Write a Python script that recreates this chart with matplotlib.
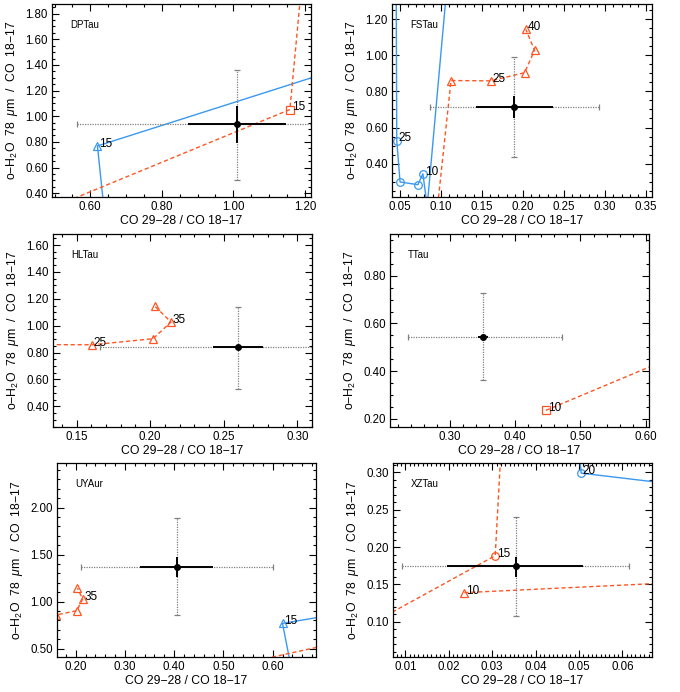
import matplotlib
matplotlib.use("Agg")
import matplotlib.pyplot as plt
from matplotlib.ticker import MultipleLocator, AutoMinorLocator, FormatStrFormatter

plt.rcParams['font.family'] = ['Liberation Sans', 'DejaVu Sans']
plt.rcParams['mathtext.fontset'] = 'custom'
plt.rcParams['mathtext.rm'] = 'Liberation Sans'
plt.rcParams['mathtext.it'] = 'Liberation Sans:italic'

BLUE = '#3a98f0'
ORANGE = '#ff5522'

# --- model tracks (same in every panel), labelled by model value ---
# blue solid, circles
CIRC_B_VAL = [30, 25, 20, 15, 10, 5, 2]
CIRC_B_X = [0.0455, 0.0465, 0.0505, 0.0722, 0.0783, 0.0835, 0.1100]
CIRC_B_Y = [1.750, 0.528, 0.299, 0.284, 0.344, 0.165, 1.506]
# blue solid, triangles
TRI_B_VAL = [10, 15, 20]
TRI_B_X = [0.645, 0.620, 1.500]
TRI_B_Y = [0.100, 0.768, 1.550]
# orange dashed, circles
CIRC_O_VAL = [10, 15, 20, 25]
CIRC_O_X = [0.000, 0.0307, 0.0440, 0.0500]
CIRC_O_Y = [0.0905, 0.1885, 1.600, 2.500]
# orange dashed, triangles
TRI_O_VAL = [10, 15, 20, 25, 30, 35, 40]
TRI_O_X = [0.0236, 0.0960, 0.1125, 0.1606, 0.2019, 0.2142, 0.2034]
TRI_O_Y = [0.139, 0.159, 0.860, 0.858, 0.903, 1.027, 1.143]
# orange dashed, squares
SQ_O_VAL = [10, 15, 20]
SQ_O_X = [0.447, 1.158, 1.210]
SQ_O_Y = [0.235, 1.052, 2.600]

# --- observed ratios per star ---
STARS = ['DPTau', 'FSTau', 'HLTau', 'TTau', 'UYAur', 'XZTau']
OBS_X = [1.010, 0.189, 0.260, 0.351, 0.405, 0.0354]
OBS_Y = [0.940, 0.713, 0.840, 0.543, 1.372, 0.1742]
# black (small) error ranges
BLK_X_LO = [0.873, 0.143, 0.2425, 0.343, 0.330, 0.0197]
BLK_X_HI = [1.146, 0.236, 0.2770, 0.358, 0.479, 0.0510]
BLK_Y_LO = [0.792, 0.652, 0.826, 0.535, 1.263, 0.1598]
BLK_Y_HI = [1.078, 0.772, 0.852, 0.552, 1.477, 0.1865]
# grey (total) error ranges
GRY_X_LO = [0.563, 0.0865, 0.166, 0.236, 0.210, 0.0092]
GRY_X_HI = [1.457, 0.292, 0.354, 0.472, 0.601, 0.0615]
GRY_Y_LO = [0.506, 0.437, 0.531, 0.361, 0.854, 0.108]
GRY_Y_HI = [1.358, 0.990, 1.142, 0.727, 1.886, 0.2407]

# axis ranges and tick spacing
XLIM = [(0.493, 1.217), (0.0407, 0.357), (0.134, 0.310),
        (0.208, 0.605), (0.162, 0.688), (0.00717, 0.0668)]
YLIM = [(0.37, 1.875), (0.216, 1.283), (0.2465, 1.682),
        (0.165, 0.976), (0.411, 2.473), (0.0528, 0.3126)]
X_MAJOR = [0.2, 0.05, 0.05, 0.1, 0.1, 0.01]
X_MINOR = [4, 5, 5, 5, 5, 10]
Y_MAJOR = [0.2, 0.2, 0.2, 0.2, 0.5, 0.05]
Y_MINOR = [4, 4, 4, 4, 5, 5]

# which model points get a number next to them
LABELS = [
    [('tri_b', 15), ('sq_o', 15)],
    [('circ_b', 25), ('circ_b', 10), ('tri_o', 25), ('tri_o', 40)],
    [('tri_o', 25), ('tri_o', 35)],
    [('sq_o', 10)],
    [('tri_o', 35), ('tri_b', 15)],
    [('circ_b', 20), ('circ_o', 15), ('tri_o', 10)],
]

# panel boxes in pixels: left, top, right, bottom
BOXES = [(52, 4, 311, 197), (392, 4, 652, 197),
         (53, 234, 312, 427), (390, 234, 649, 427),
         (57, 463, 316, 657), (393, 463, 652, 657)]

TRACKS = {
    'circ_b': (CIRC_B_VAL, CIRC_B_X, CIRC_B_Y, BLUE, '-', 'o'),
    'tri_b': (TRI_B_VAL, TRI_B_X, TRI_B_Y, BLUE, '-', '^'),
    'circ_o': (CIRC_O_VAL, CIRC_O_X, CIRC_O_Y, ORANGE, '--', 'o'),
    'tri_o': (TRI_O_VAL, TRI_O_X, TRI_O_Y, ORANGE, '--', '^'),
    'sq_o': (SQ_O_VAL, SQ_O_X, SQ_O_Y, ORANGE, '--', 's'),
}

W, H = 680, 692
fig = plt.figure(figsize=(W / 100, H / 100), dpi=100)

for i, star in enumerate(STARS):
    l, t, r, b = BOXES[i]
    ax = fig.add_axes([l / W, 1 - b / H, (r - l) / W, (b - t) / H])

    for key, (val, tx, ty, col, ls, mk) in TRACKS.items():
        line, = ax.plot(tx, ty, color=col, ls=ls, lw=1.0, marker=mk,
                        ms=5.5, mfc='none', mec=col, mew=0.9)
        if ls == '--':
            line.set_dashes((3, 2))

    for key, v in LABELS[i]:
        val, tx, ty = TRACKS[key][:3]
        k = val.index(v)
        ax.annotate(str(v), (tx[k], ty[k]), xytext=(1.2, 1.5),
                    textcoords='offset points', fontsize=8.5,
                    ha='left', va='center')

    x, y = OBS_X[i], OBS_Y[i]
    eb = ax.errorbar(x, y,
                     xerr=[[x - GRY_X_LO[i]], [GRY_X_HI[i] - x]],
                     yerr=[[y - GRY_Y_LO[i]], [GRY_Y_HI[i] - y]],
                     fmt='none', ecolor='#808080', elinewidth=0.9,
                     capsize=2, capthick=0.9)
    for lc in eb[2]:
        lc.set_linestyle((0, (1, 1)))
    ax.errorbar(x, y,
                xerr=[[x - BLK_X_LO[i]], [BLK_X_HI[i] - x]],
                yerr=[[y - BLK_Y_LO[i]], [BLK_Y_HI[i] - y]],
                fmt='o', color='black', ms=4, elinewidth=1.4, capsize=0)

    ax.set_xlim(*XLIM[i])
    ax.set_ylim(*YLIM[i])
    ax.xaxis.set_major_locator(MultipleLocator(X_MAJOR[i]))
    ax.xaxis.set_minor_locator(AutoMinorLocator(X_MINOR[i]))
    ax.yaxis.set_major_locator(MultipleLocator(Y_MAJOR[i]))
    ax.yaxis.set_minor_locator(AutoMinorLocator(Y_MINOR[i]))
    ax.xaxis.set_major_formatter(FormatStrFormatter('%.2f'))
    ax.yaxis.set_major_formatter(FormatStrFormatter('%.2f'))
    ax.tick_params(which='both', direction='in', top=True, right=True,
                   labelsize=8.3, width=0.8, pad=3)
    ax.tick_params(which='major', length=5)
    ax.tick_params(which='minor', length=2.5)
    for sp in ax.spines.values():
        sp.set_linewidth(0.9)

    ax.text(0.07, 0.89, star, transform=ax.transAxes, fontsize=7,
            va='center', ha='left')
    ax.set_xlabel('CO 29\u221228 / CO 18\u221217', fontsize=8.8, labelpad=1)
    ax.set_ylabel('o\u2212H$_2$O  78  $\\mu$m  /  CO  18\u221217',
                  fontsize=8.8, labelpad=4)

fig.savefig('out.png', dpi=100)
